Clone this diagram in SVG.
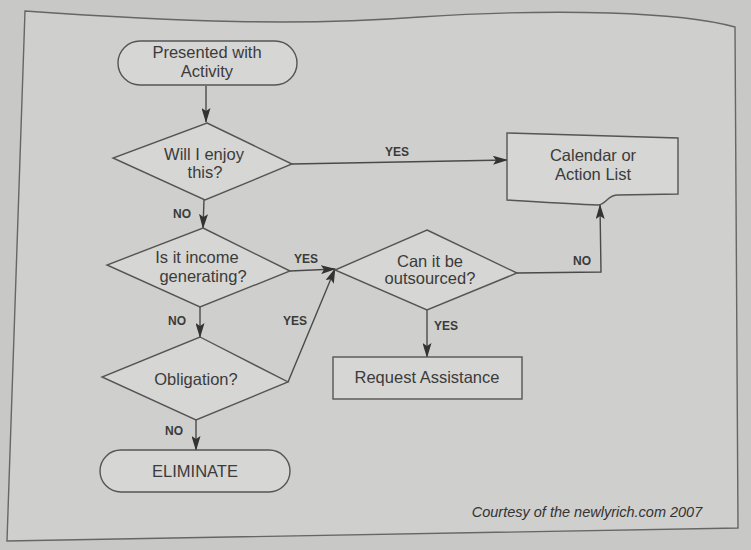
<svg xmlns="http://www.w3.org/2000/svg" width="751" height="550" viewBox="0 0 751 550">
<defs>
<marker id="ah" viewBox="0 0 15 9" refX="14" refY="4.5" markerWidth="15" markerHeight="9" markerUnits="userSpaceOnUse" orient="auto">
<path d="M0,0 L15,4.5 L0,9 L3,4.5 Z" fill="#333"/>
</marker>
</defs>
<style>
.node{fill:#d6d6d4;stroke:#555;stroke-width:1.4}
.t{font-family:"Liberation Sans",Arial,sans-serif;font-size:16.5px;fill:#3b3b3b;text-anchor:middle}
.lbl{font-family:"Liberation Sans",Arial,sans-serif;font-size:12px;font-weight:bold;fill:#3b3b3b;text-anchor:middle}
.c{fill:none;stroke:#4a4a4a;stroke-width:1.4}
</style>
<rect x="0" y="0" width="751" height="550" fill="#c8c8c6"/>
<path d="M25,11 C180,22 300,26 420,17 C560,8 680,12 735,27 L738,528 L7,541 Z" fill="#cfcfcd" stroke="#666" stroke-width="1.4"/>
<g id="connectors">
<path class="c" d="M206,86 L206,122" marker-end="url(#ah)"/>
<path class="c" d="M292,164 L507,160" marker-end="url(#ah)"/>
<path class="c" d="M204,200 L203,228" marker-end="url(#ah)"/>
<path class="c" d="M290,271 L335,269" marker-end="url(#ah)"/>
<path class="c" d="M200,307 L200,337" marker-end="url(#ah)"/>
<path class="c" d="M288,382 L335,269" marker-end="url(#ah)"/>
<path class="c" d="M196,420 L196,450" marker-end="url(#ah)"/>
<path class="c" d="M427,310 L427,357" marker-end="url(#ah)"/>
<path class="c" d="M517,273 L601,272 L600,205" marker-end="url(#ah)"/>
<text class="lbl" x="397" y="156">YES</text>
<text class="lbl" x="182" y="218">NO</text>
<text class="lbl" x="306" y="263">YES</text>
<text class="lbl" x="177" y="325">NO</text>
<text class="lbl" x="295" y="325">YES</text>
<text class="lbl" x="174" y="435">NO</text>
<text class="lbl" x="446" y="330">YES</text>
<text class="lbl" x="582" y="265">NO</text>
</g>
<g id="start">
<rect class="node" x="118" y="41" width="179" height="44" rx="22"/>
<text class="t" x="207" y="58">Presented with</text>
<text class="t" x="207" y="77">Activity</text>
</g>
<g id="enjoy">
<path class="node" d="M207,123 L292,164 L205,200 L113,158 Z"/>
<text class="t" x="204" y="160">Will I enjoy</text>
<text class="t" x="205" y="178">this?</text>
</g>
<g id="income">
<path class="node" d="M203,228 L290,271 L200,307 L107,265 Z"/>
<text class="t" x="197" y="263">Is it income</text>
<text class="t" x="203" y="282">generating?</text>
</g>
<g id="obligation">
<path class="node" d="M200,337 L288,382 L196,420 L102,377 Z"/>
<text class="t" x="196" y="385">Obligation?</text>
</g>
<g id="eliminate">
<rect class="node" x="100" y="450" width="190" height="42" rx="21"/>
<text class="t" x="195" y="477">ELIMINATE</text>
</g>
<g id="outsourced">
<path class="node" d="M427,230 L517,273 L427,310 L335,270 Z"/>
<text class="t" x="430" y="267">Can it be</text>
<text class="t" x="430" y="284">outsourced?</text>
</g>
<g id="request">
<rect class="node" x="333" y="357" width="189" height="42"/>
<text class="t" x="427" y="383">Request Assistance</text>
</g>
<g id="calendar">
<path class="node" d="M507,133 L678,138 L678,194 L618,195 C607,195 607,204 598,205 C570,204 540,202 507,200 Z"/>
<text class="t" x="593" y="161">Calendar or</text>
<text class="t" x="593" y="180">Action List</text>
</g>
<text x="587" y="517" font-family="Liberation Sans,Arial,sans-serif" font-size="14.5" font-style="italic" fill="#333" text-anchor="middle">Courtesy of the newlyrich.com 2007</text>
</svg>
